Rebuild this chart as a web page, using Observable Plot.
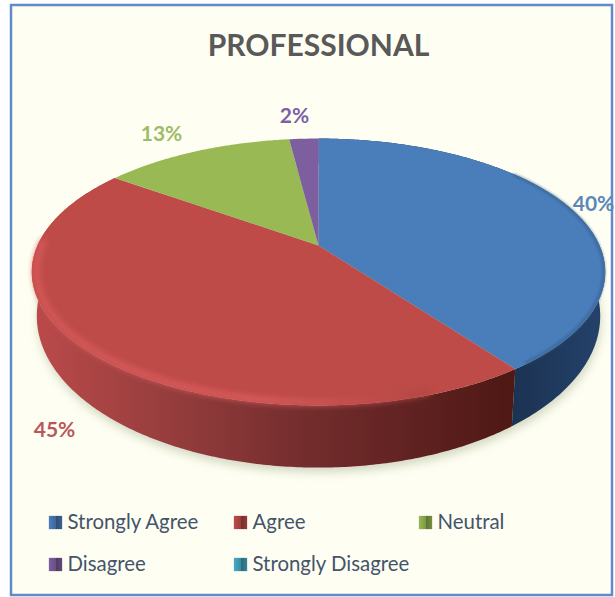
<!DOCTYPE html>
<html><head><meta charset="utf-8">
<script src="https://cdn.jsdelivr.net/npm/d3@7"></script>
<script src="https://cdn.jsdelivr.net/npm/@observablehq/plot@0.6"></script>
<style>html,body{margin:0;padding:0;background:#fff}svg{display:block}</style>
</head><body><div id="chart"></div>
<script>
const title = "PROFESSIONAL";
const categories = ["Strongly Agree", "Agree", "Neutral", "Disagree", "Strongly Disagree"];
const values = [40, 45, 13, 2, 0];
const sliceColors = ["#4a7ebb", "#be4b48", "#98b954", "#7d5fa0", "#46aac5"];
const labelColors = ["#5b86b8", "#b9575c", "#9fbb69", "#7d5fa8"];

const F = "Lato, 'Open Sans', sans-serif";
const W = 615, H = 597;
const total = d3.sum(values);
const cum = d3.cumsum(values);
const cx = 318, cy = 245, A = 128.2, B = 281, k = 0.1985;
// Perspective projection of a point on the unit pie disc
function proj(theta, r = 1) {
  const s = Math.sin(theta) * r, u = -Math.cos(theta) * r, d = 1 - k * u;
  return {x: cx + B * s / d, y: cy + A * u / d};
}
const ey0 = 271, ry0 = 133, rx0 = 287;
function lower(p) {
  return {x: cx + (p.x - cx) * 282 / rx0, y: 315 + (p.y - ey0) * 151 / ry0};
}
const rad = v => v / total * 2 * Math.PI;
function rim(t0, t1, r = 1) {
  const n = Math.max(2, Math.ceil((t1 - t0) / 0.01));
  return d3.range(n + 1).map(i => proj(t0 + (t1 - t0) * i / n, r));
}
const slices = categories.map((c, i) => ({c, i, t0: rad(i ? cum[i - 1] : 0), t1: rad(cum[i])})).filter((s, i) => values[i] > 0);
const wedge = s => [{x: cx, y: cy}, ...rim(s.t0, s.t1)];
const wall = s => { const r = rim(s.t0, s.t1); return [...r, ...r.map(lower).reverse()]; };
const shadowPts = rim(0, 2 * Math.PI).map(lower).map(p => ({x: p.x + 1, y: p.y + 5}));

const gradients = `
<linearGradient id="wall0" gradientUnits="userSpaceOnUse" x1="513" x2="605" y1="0" y2="0"><stop offset="0" stop-color="#1b3353"/><stop offset="1" stop-color="#25426b"/></linearGradient>
<linearGradient id="wall1" gradientUnits="userSpaceOnUse" x1="33" x2="513" y1="0" y2="0"><stop offset="0" stop-color="#bb4a4a"/><stop offset="0.3" stop-color="#943c3c"/><stop offset="0.58" stop-color="#722c2c"/><stop offset="1" stop-color="#4e1815"/></linearGradient>
<linearGradient id="bevel" gradientUnits="userSpaceOnUse" x1="60" x2="430" y1="0" y2="0"><stop offset="0" stop-color="#d95a5c"/><stop offset="0.55" stop-color="#dc5d5e"/><stop offset="1" stop-color="#b04543"/></linearGradient>
${sliceColors.map((c, i) => `<linearGradient id="key${i}" x1="0" x2="1" y1="0" y2="0"><stop offset="0" stop-color="${c}"/><stop offset="0.5" stop-color="${d3.color(c).darker(0.5)}"/><stop offset="0.55" stop-color="${d3.color(c).darker(1.3)}"/><stop offset="1" stop-color="${d3.color(c).darker(0.7)}"/></linearGradient>`).join("")}`;

const legendItems = [
  {c: 0, x: 67, y: 522}, {c: 1, x: 252, y: 522}, {c: 2, x: 437, y: 522},
  {c: 3, x: 67, y: 564}, {c: 4, x: 252, y: 564}
];
const pctLabels = [
  {i: 0, x: 593, y: 204}, {i: 1, x: 54, y: 430}, {i: 2, x: 161, y: 134}, {i: 3, x: 294, y: 116}
];

const marks = [
  () => { const g = document.createElementNS("http://www.w3.org/2000/svg", "defs"); g.innerHTML = gradients; return g; },
  Plot.rect([0], {x1: 11, x2: 612, y1: 5, y2: 595, fill: "#fefff2", stroke: "#5f8bc8", strokeWidth: 2.5}),
  Plot.text([title], {x: 318, y: 45.5, text: d => d, fontSize: 30, fontWeight: 700, fontFamily: F, fill: "#595959"}),
  Plot.line(shadowPts, {x: "x", y: "y", fill: "#d4d7c4", stroke: "none", imageFilter: "blur(5px)"})
];
for (const s of slices) {
  if (s.i < 2) marks.push(Plot.line(wall(s), {x: "x", y: "y", fill: `url(#wall${s.i})`, stroke: "none"}));
}
for (const s of slices) {
  marks.push(Plot.line(wedge(s), {x: "x", y: "y", fill: sliceColors[s.i], stroke: "none"}));
}
// soft bevel along the front rim of the two large slices
const redSlice = slices[1], blueSlice = slices[0];
marks.push(
  Plot.line(rim(redSlice.t0 + 0.3, redSlice.t1 - 0.6, 0.985), {x: "x", y: "y", stroke: "url(#bevel)", strokeWidth: 6, imageFilter: "blur(3px)"}),
  Plot.line(rim(blueSlice.t0 + 0.9, blueSlice.t1 - 0.05, 0.995), {x: "x", y: "y", stroke: "#36608e", strokeWidth: 2, imageFilter: "blur(1.5px)"})
);
marks.push(
  Plot.text(pctLabels, {x: "x", y: "y", text: d => `${values[d.i]}%`, fill: d => labelColors[d.i], fontSize: 21, fontWeight: 700, fontFamily: F})
);
for (const it of legendItems) {
  marks.push(Plot.dot([it], {x: d => d.x - 12, y: "y", r: 7.5, symbol: "square", fill: `url(#key${it.c})`, stroke: "none"}));
}
marks.push(
  Plot.text(legendItems, {x: "x", y: "y", text: d => categories[d.c], textAnchor: "start", fill: "#44546a", fontSize: 20.4, fontFamily: F})
);

const chart = Plot.plot({
  width: W, height: H, margin: 0,
  x: {axis: null, domain: [0, W], range: [0, W]},
  y: {axis: null, domain: [0, H], range: [0, H]},
  style: {background: "transparent"},
  marks
});
document.getElementById("chart").append(chart);
</script></body></html>
